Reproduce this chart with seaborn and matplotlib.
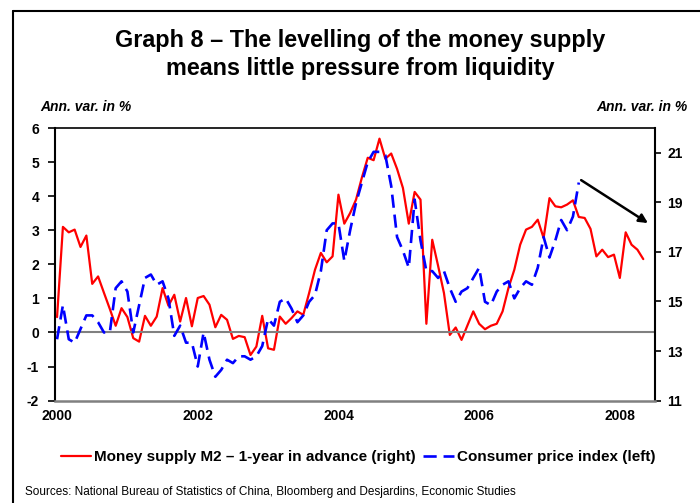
import matplotlib
matplotlib.use("Agg")
import matplotlib.pyplot as plt
from matplotlib.lines import Line2D
import seaborn as sns
import pandas as pd

# ---------------- data ----------------
year_labels = ["2000", "2002", "2004", "2006", "2008"]
year_ticks = [0, 24, 48, 72, 96]          # month index (Jan 2000 = 0)

# Consumer price index, annual variation in % (left axis), Jan 2000 - Jun 2007
cpi = [-0.2, 0.8, -0.2, -0.3, 0.1, 0.5, 0.5, 0.3, 0.0, 0.0, 1.3, 1.5,
       1.2, 0.0, 0.8, 1.6, 1.7, 1.4, 1.5, 1.0, -0.1, 0.2, -0.3, -0.3,
       -1.0, 0.0, -0.8, -1.3, -1.1, -0.8, -0.9, -0.7, -0.7, -0.8, -0.7, -0.4,
       0.4, 0.2, 0.9, 1.0, 0.7, 0.3, 0.5, 0.9, 1.1, 1.8, 3.0, 3.2,
       3.2, 2.1, 3.0, 3.8, 4.4, 5.0, 5.3, 5.3, 5.2, 4.3, 2.8, 2.4,
       1.9, 3.9, 2.7, 1.8, 1.8, 1.6, 1.8, 1.3, 0.9, 1.2, 1.3, 1.6,
       1.9, 0.9, 0.8, 1.2, 1.4, 1.5, 1.0, 1.3, 1.5, 1.4, 1.9, 2.8,
       2.2, 2.7, 3.3, 3.0, 3.4, 4.4]

# Money supply M2, 1-year in advance, annual variation in % (right axis), Jan 2000 - May 2008
m2_ahead = [14.37, 18.01, 17.79, 17.90, 17.20, 17.66, 15.71, 16.01, 15.35, 14.70,
            14.02, 14.73, 14.37, 13.52, 13.38, 14.42, 14.02, 14.39, 15.54, 14.83,
            15.27, 14.19, 15.14, 14.00, 15.14, 15.22, 14.87, 13.96, 14.46, 14.26,
            13.49, 13.61, 13.56, 12.84, 13.18, 14.42, 13.11, 13.05, 14.39, 14.10,
            14.33, 14.60, 14.46, 15.34, 16.28, 16.96, 16.58, 16.82, 19.31, 18.14,
            18.57, 19.11, 20.00, 20.80, 20.70, 21.57, 20.76, 20.97, 20.35, 19.58,
            18.14, 19.42, 19.11, 14.10, 17.49, 16.44, 15.34, 13.65, 13.95, 13.45,
            14.03, 14.60, 14.10, 13.88, 14.02, 14.10, 14.60, 15.54, 16.28, 17.29,
            17.90, 18.01, 18.30, 17.56, 19.17, 18.84, 18.80, 18.91, 19.08, 18.41,
            18.37, 17.93, 16.82, 17.09, 16.79, 16.89, 15.95, 17.79, 17.29, 17.09,
            16.71]

left_ticks = [-2, -1, 0, 1, 2, 3, 4, 5, 6]
right_ticks = [11, 13, 15, 17, 19, 21]

arrow_start = (89.4, 4.47)
arrow_end = (100.8, 3.21)

title_line1 = "Graph 8 \u2013 The levelling of the money supply"
title_line2 = "means little pressure from liquidity"
label_m2 = "Money supply M2 \u2013 1-year in advance (right)"
label_cpi = "Consumer price index (left)"
unit_text = "Ann. var. in %"
source_text = ("Sources: National Bureau of Statistics of China, Bloomberg and "
               "Desjardins, Economic Studies")

# ---------------- style ----------------
sns.set_theme(style="white")
plt.rcParams["font.family"] = ["Liberation Sans", "DejaVu Sans"]
plt.rcParams["text.color"] = "black"

RED = "#FF0000"
BLUE = "#0000FF"
GRAY = "#808080"

fig = plt.figure(figsize=(7.0, 5.03), dpi=100)
fig.patch.set_facecolor("white")

ax = fig.add_axes([55 / 700, 1 - 400.6 / 503, 600 / 700, (400.6 - 128) / 503])
ax2 = ax.twinx()
ax.set_zorder(ax2.get_zorder() + 1)
ax.patch.set_visible(False)

df_cpi = pd.DataFrame({"month": range(len(cpi)), "value": cpi})
df_m2 = pd.DataFrame({"month": range(len(m2_ahead)), "value": m2_ahead})

sns.lineplot(data=df_m2, x="month", y="value", ax=ax2, color=RED, lw=1.6)
sns.lineplot(data=df_cpi, x="month", y="value", ax=ax, color=BLUE, lw=1.9)
cpi_line = ax.get_lines()[-1]
cpi_line.set_dashes((5, 2.6))
cpi_line.set_dash_capstyle("butt")

ax.axhline(0, color=GRAY, lw=1.5, zorder=1)

ax.set_xlim(-0.35, 102.0)
ax.set_ylim(-2, 6)
ax2.set_ylim(11, 22)

ax.set_xticks(year_ticks)
ax.set_xticklabels(year_labels)
ax.set_yticks(left_ticks)
ax.set_yticklabels([str(v) for v in left_ticks])
ax2.set_yticks(right_ticks)
ax2.set_yticklabels([str(v) for v in right_ticks])

for a in (ax, ax2):
    a.set_xlabel("")
    a.set_ylabel("")
    for s in a.spines.values():
        s.set_visible(False)

ax.spines["left"].set_visible(True)
ax.spines["left"].set_color("black")
ax.spines["left"].set_linewidth(1.5)
ax.spines["top"].set_visible(True)
ax.spines["top"].set_color("black")
ax.spines["top"].set_linewidth(1.2)
ax.spines["right"].set_visible(True)
ax.spines["right"].set_color("black")
ax.spines["right"].set_linewidth(1.5)
ax.spines["bottom"].set_visible(True)
ax.spines["bottom"].set_color(GRAY)
ax.spines["bottom"].set_linewidth(1.8)

ax.tick_params(axis="x", length=0, pad=6, labelsize=10, colors="black")
ax.tick_params(axis="y", left=True, direction="out", length=5, width=1.2,
               pad=6.5, labelsize=10, color="black", labelcolor="black")
ax2.tick_params(axis="y", right=True, direction="out", length=4.5, width=1.2,
                pad=4.5, labelsize=10, color="black", labelcolor="black")
for lab in ax.get_xticklabels() + ax.get_yticklabels() + ax2.get_yticklabels():
    lab.set_fontweight("bold")

ax.annotate("", xy=arrow_end, xytext=arrow_start,
            arrowprops=dict(arrowstyle="-|>", color="black", lw=1.8,
                            mutation_scale=13, shrinkA=0, shrinkB=0))

# ---------------- texts ----------------
fig.text(0.514, 1 - 41 / 503, title_line1, ha="center", va="center", fontsize=16.8,
         fontweight="bold", color="black")
fig.text(0.514, 1 - 68 / 503, title_line2, ha="center", va="center", fontsize=16.8,
         fontweight="bold", color="black")
fig.text(40 / 700, 1 - 107 / 503, unit_text, ha="left", va="center",
         fontsize=10, fontweight="bold", style="italic", color="black")
fig.text(688 / 700, 1 - 107 / 503, unit_text, ha="right", va="center",
         fontsize=10, fontweight="bold", style="italic", color="black")

handles = [Line2D([], [], color=RED, lw=1.6),
           Line2D([], [], color=BLUE, lw=1.9, dashes=(5, 2.6))]
leg = fig.legend(handles, [label_m2, label_cpi], loc="center", ncol=2,
                 bbox_to_anchor=(358 / 700, 1 - 457 / 503), frameon=False,
                 prop={"weight": "bold", "size": 11}, handlelength=2.0,
                 handletextpad=0.2, columnspacing=0.5, borderaxespad=0)
for t in leg.get_texts():
    t.set_color("black")

fig.text(25 / 700, 1 - 492 / 503, source_text, ha="left", va="center",
         fontsize=8.5, color="black",
         family=["Liberation Sans Narrow", "Liberation Sans", "DejaVu Sans"])

# frame lines
fig.add_artist(Line2D([13 / 700, 13 / 700], [0, 1 - 11 / 503],
                      transform=fig.transFigure, color="black", lw=1.5))
fig.add_artist(Line2D([13 / 700, 1], [1 - 11 / 503, 1 - 11 / 503],
                      transform=fig.transFigure, color="black", lw=1.5))

fig.savefig("out.png", dpi=100)
